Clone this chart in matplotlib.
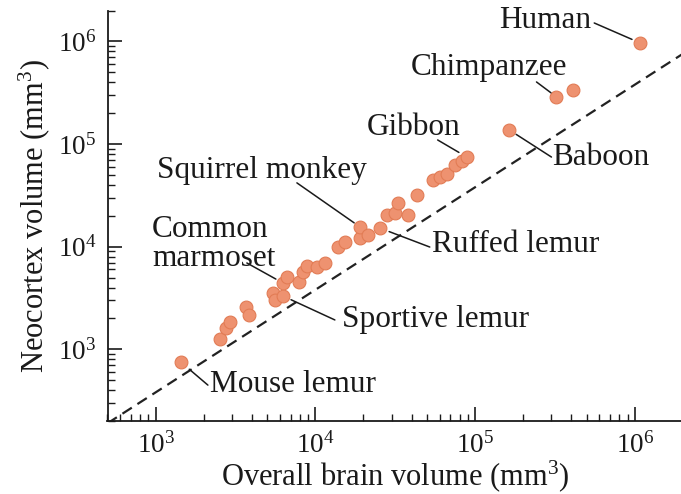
import matplotlib
matplotlib.use("Agg")
import matplotlib.pyplot as plt

plt.rcParams["font.family"] = ["Liberation Serif", "DejaVu Serif"]
plt.rcParams["mathtext.fontset"] = "custom"
plt.rcParams["mathtext.rm"] = "Liberation Serif"
plt.rcParams["mathtext.it"] = "Liberation Serif:italic"

# overall brain volume (mm^3) and neocortex volume (mm^3)
brain_vol = [1440, 2530, 2760, 2920, 3680, 3840, 5420, 5550, 6260, 6260,
             6640, 7880, 8350, 8850, 10200, 11500, 13800, 15300, 19000, 19000,
             21300, 25300, 28000, 31400, 32800, 37900, 43100, 54200, 60000, 66300,
             74500, 82400, 88500, 164000, 323000, 407000, 1080000]
neocortex_vol = [750, 1260, 1610, 1850, 2580, 2160, 3540, 3030, 3310, 4430,
                 5070, 4530, 5660, 6480, 6340, 6940, 9930, 11100, 12200, 15600,
                 13000, 15200, 20400, 21300, 26700, 20400, 31900, 44700, 47800, 51200,
                 62600, 68400, 74900, 137000, 288000, 337000, 967000]

# dashed reference line
ref_x = [500, 2e6]
ref_y = [190, 760000]

# species labels: name, point index
label_names = ["Human", "Chimpanzee", "Gibbon", "Baboon", "Squirrel monkey",
               "Ruffed lemur", "Common\nmarmoset", "Sportive lemur", "Mouse lemur"]
label_idx = [36, 34, 32, 33, 19, 21, 9, 8, 0]
# text offset (pixels), alignment, connector far end (pixels), gap near the dot (pixels)
text_off = [(-49, 15), (11, 22), (-6, 22), (43, -35), (-203, 49),
            (52, -24), (-131, 17), (59, -31), (29, -30)]
text_ha = ["right", "right", "right", "left", "left", "left", "left", "left", "left"]
line_off = [(-46, 20), (-20, 15), (-29, 17), (42, -27), (-63, 44),
            (50, -19), (-36, 20), (52, -24), (27, -23)]
line_gap = [9, 7, 9, 8, 7, 10, 8, 9, 11]

fig = plt.figure(figsize=(6.81, 4.94), dpi=100)
ax = fig.add_axes([107.5 / 681, 73 / 494, 575.5 / 681, 410.4 / 494])

ax.plot(ref_x, ref_y, color="#222222", lw=1.6, ls=(0, (5, 3)), zorder=1)
ax.scatter(brain_vol, neocortex_vol, s=85, color="#EE9270",
           edgecolors="#E27C55", linewidths=0.8, zorder=3)

for name, i, toff, ha, loff, gap in zip(label_names, label_idx, text_off,
                                         text_ha, line_off, line_gap):
    pt = (brain_vol[i], neocortex_vol[i])
    ax.annotate(name, xy=pt, xytext=toff, textcoords="offset pixels",
                ha=ha, va="baseline", fontsize=22.5, color="#1a1a1a",
                linespacing=1.0)
    ax.annotate("", xy=pt, xytext=loff, textcoords="offset pixels",
                arrowprops=dict(arrowstyle="-", color="#1a1a1a", lw=1.1,
                                shrinkA=0, shrinkB=gap * 0.72))

ax.set_xscale("log")
ax.set_yscale("log")
ax.set_xlim(500, 2e6)
ax.set_ylim(2e2, 2e6)
ax.set_xticks([1e3, 1e4, 1e5, 1e6])
ax.set_yticks([1e3, 1e4, 1e5, 1e6])

for s in ["top", "right"]:
    ax.spines[s].set_visible(False)
for s in ["left", "bottom"]:
    ax.spines[s].set_linewidth(1.3)
    ax.spines[s].set_color("#1a1a1a")

ax.tick_params(which="major", direction="in", length=10, width=1.2,
               labelsize=19.5, colors="#1a1a1a")
ax.tick_params(which="minor", direction="in", length=5, width=1.0, colors="#1a1a1a")
ax.tick_params(axis="x", which="major", pad=8)
ax.tick_params(axis="y", which="major", pad=8)

ax.set_xlabel("Overall brain volume (mm$^3$)", fontsize=22, color="#1a1a1a")
ax.xaxis.set_label_coords(0.5, -0.09)
ax.set_ylabel("Neocortex volume (mm$^3$)", fontsize=22, color="#1a1a1a", labelpad=4)

fig.savefig("out.png", dpi=100)
